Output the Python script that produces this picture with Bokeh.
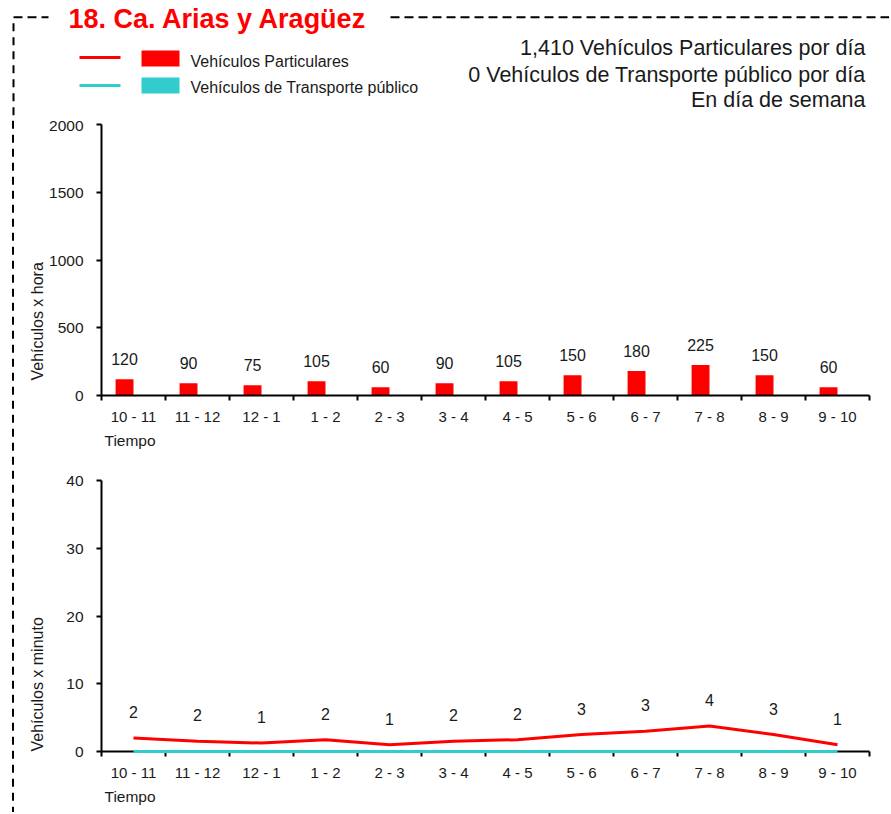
from bokeh.plotting import figure
from bokeh.layouts import row, column
from bokeh.models import Range1d, FixedTicker, ColumnDataSource, Title, Div
from bokeh.core.properties import value
from bokeh.embed import file_html
from bokeh.resources import INLINE

# ---------------- data ----------------
categories = ["10 - 11", "11 - 12", "12 - 1", "1 - 2", "2 - 3", "3 - 4",
              "4 - 5", "5 - 6", "6 - 7", "7 - 8", "8 - 9", "9 - 10"]
particulares_hora = [120, 90, 75, 105, 60, 90, 105, 150, 180, 225, 150, 60]
transporte_hora = [0, 0, 0, 0, 0, 0, 0, 0, 0, 0, 0, 0]
particulares_min = [2, 1.5, 1.25, 1.75, 1, 1.5, 1.75, 2.5, 3, 3.75, 2.5, 1]
transporte_min = [0, 0, 0, 0, 0, 0, 0, 0, 0, 0, 0, 0]
y_ticks_hora = [0, 500, 1000, 1500, 2000]
y_ticks_min = [0, 10, 20, 30, 40]
title_text = "18. Ca. Arias y Aragüez"
series_names = ["Vehículos Particulares", "Vehículos de Transporte público"]
day_text = "En día de semana"

RED = "#FF0000"
CYAN = "#33CCCC"
TXT = "#1a1a1a"
FONT = "Liberation Sans"

n = len(categories)
centers = [i + 0.5 for i in range(n)]
bounds = list(range(n + 1))
label_map = {c: cat for c, cat in zip(centers, categories)}

# ---------------- header (own root) ----------------
HW, HH = 889, 116
head = figure(width=HW, height=HH, x_range=Range1d(0, HW), y_range=Range1d(0, HH),
              output_backend="svg", toolbar_location=None, min_border=0, title=None,
              x_axis_type=None, y_axis_type=None, outline_line_color=None)
head.grid.visible = False
head.line([13, 48], [99.3, 99.3], line_color="black", line_width=2, line_dash="9 5")
head.line([390, HW], [99.3, 99.3], line_color="black", line_width=2, line_dash="9 5")
head.line([13, 13], [99.3, 0], line_color="black", line_width=2, line_dash="8 6", line_dash_offset=8)
head.text(x=[68], y=[97.5], text=[title_text], text_color=RED, text_font=value(FONT),
          text_font_style="bold", text_font_size="27px", text_baseline="alphabetic", text_align="left")
# legend: line swatch, box swatch, label
head.line([79, 120], [59, 59], line_color=RED, line_width=3)
head.line([79, 120], [31, 31], line_color=CYAN, line_width=3)
head.quad(left=[141], right=[179], bottom=[50], top=[66], fill_color=RED, line_color=None)
head.quad(left=[141], right=[179], bottom=[23], top=[39], fill_color=CYAN, line_color=None)
head.text(x=[190, 190], y=[55.3, 28.7], text=series_names, text_color=TXT, text_font=value(FONT),
          text_font_size="16px", text_baseline="alphabetic", text_align="left")
info = [f"{sum(particulares_hora):,} {series_names[0]} por día",
        f"{sum(transporte_hora):,} {series_names[1]} por día",
        day_text]
head.text(x=[865, 865, 865], y=[68.7, 41.7, 17], text=info, text_color=TXT, text_font=value(FONT),
          text_font_size="21.5px", text_baseline="alphabetic", text_align="right")

# ---------------- left dashed border for the chart area ----------------
TOP_H, BOT_H = 340, 356
BODY_H = TOP_H + BOT_H
DIV_W = 15
dash_div = Div(text=(f'<svg width="{DIV_W}" height="{BODY_H}" style="display:block">'
                     f'<line x1="13" y1="0" x2="13" y2="{BODY_H}" stroke="#000" stroke-width="2" '
                     f'stroke-dasharray="8 6" stroke-dashoffset="9.3"/></svg>'),
               width=DIV_W, height=BODY_H, margin=0)

CHART_W = 874
BORDER_L = 86
BORDER_R = CHART_W - BORDER_L - 768
LABEL_CHARS = max(len(str(v)) for v in y_ticks_hora)


def make_chart(height, border_top, border_bottom, y_max, y_ticks, ylabel, ylabel_offset):
    p = figure(width=CHART_W, height=height, x_range=Range1d(0, n), y_range=Range1d(0, y_max),
               output_backend="svg", toolbar_location=None, title=None,
               min_border_left=BORDER_L, min_border_right=BORDER_R,
               min_border_top=border_top, min_border_bottom=border_bottom,
               outline_line_color=None)
    p.grid.visible = False
    xa = p.xaxis[0]
    xa.ticker = FixedTicker(ticks=centers, minor_ticks=bounds)
    xa.major_label_overrides = label_map
    xa.major_tick_out = 0
    xa.major_tick_in = 0
    xa.minor_tick_out = 5
    xa.minor_tick_in = 0
    xa.minor_tick_line_width = 2
    xa.minor_tick_line_color = "black"
    xa.axis_line_width = 2
    xa.axis_line_color = "black"
    xa.major_label_standoff = 7
    xa.major_label_text_font = FONT
    xa.major_label_text_font_size = "15px"
    xa.major_label_text_color = TXT
    ya = p.yaxis[0]
    ya.ticker = FixedTicker(ticks=y_ticks)
    # pad with figure spaces so both charts reserve the same label width
    ya.major_label_overrides = {v: "\u2007" * (LABEL_CHARS - len(str(v))) + str(v) for v in y_ticks}
    ya.major_tick_out = 5
    ya.major_tick_in = 0
    ya.minor_tick_out = 0
    ya.minor_tick_in = 0
    ya.major_tick_line_width = 2
    ya.axis_line_width = 2
    ya.axis_line_color = "black"
    ya.major_label_standoff = 13
    ya.major_label_text_font = FONT
    ya.major_label_text_font_size = "15.5px"
    ya.major_label_text_color = TXT
    p.add_layout(Title(text=ylabel, align="left", offset=ylabel_offset, standoff=1,
                       text_font=FONT, text_font_size="16px", text_font_style="normal",
                       text_color=TXT), "left")
    p.add_layout(Title(text="Tiempo", align="left", offset=3, standoff=4,
                       text_font=FONT, text_font_size="15.5px", text_font_style="normal",
                       text_color=TXT), "below")
    return p


# ---------------- top chart: vehicles per hour ----------------
top = make_chart(TOP_H, 8, 61, 2000, y_ticks_hora, "Vehículos x hora", 15)
bar_w = 0.28
src_h = ColumnDataSource(dict(
    xr=[c - bar_w / 2 for c in centers], xc=[c + bar_w / 2 for c in centers],
    part=particulares_hora, trans=transporte_hora,
    lab=[str(v) for v in particulares_hora]))
top.vbar(x="xr", top="part", width=bar_w, source=src_h, fill_color=RED, line_color=None)
top.vbar(x="xc", top="trans", width=bar_w, source=src_h, fill_color=CYAN, line_color=None)
top.text(x="xr", y="part", text="lab", source=src_h, y_offset=-20, text_align="center",
         text_baseline="middle", text_font=value(FONT), text_font_size="16px", text_color=TXT)

# ---------------- bottom chart: vehicles per minute ----------------
bot = make_chart(BOT_H, 24, 61, 40, y_ticks_min, "Vehículos x minuto", 0)
src_m = ColumnDataSource(dict(
    x=centers, part=particulares_min, trans=transporte_min,
    lab=[str(int(v + 0.5)) for v in particulares_min]))
bot.line(x="x", y="part", source=src_m, line_color=RED, line_width=3)
bot.line(x="x", y="trans", source=src_m, line_color=CYAN, line_width=3, level="annotation")
bot.text(x="x", y="part", text="lab", source=src_m, y_offset=-26, text_align="center",
         text_baseline="middle", text_font=value(FONT), text_font_size="16px", text_color=TXT)

body = row(dash_div, column(top, bot))
open("out.html", "w").write(file_html([head, body], INLINE))
